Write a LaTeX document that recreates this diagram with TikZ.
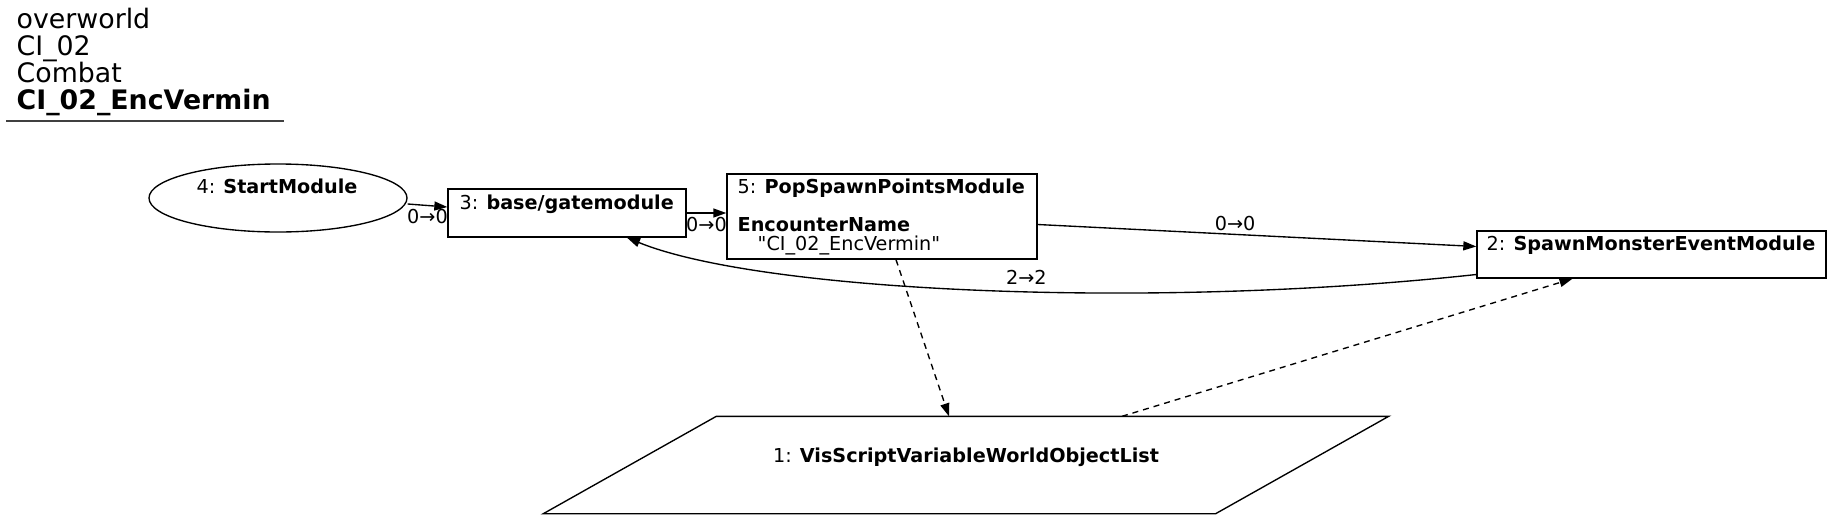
\documentclass[tikz,border=0pt]{standalone}
\usepackage{fontspec}
\setmainfont{DejaVu Sans}[Ligatures=TeXOff]
\usetikzlibrary{shapes.geometric,arrows.meta}
\begin{document}
\begin{tikzpicture}[x=0.5pt, y=-0.5pt, line width=0.68pt,
    txt/.style={inner sep=0pt, font=\fontsize{9.6}{11}\selectfont},
    head/.style={inner sep=0pt, anchor=base west, font=\fontsize{13.4}{13.5}\selectfont},
    modbox/.style={draw, rectangle, inner sep=0pt},
    flow/.style={-{Triangle[length=6.5pt,width=4.5pt]}},
    link/.style={flow, dash pattern=on 3pt off 2.5pt}]
  \useasboundingbox (0,0) rectangle (1832,520);
  % header
  \node[head] (hd1) at (16,28) {overworld};
  \node[head] (hd2) at (16,55) {CI\_02};
  \node[head] (hd3) at (16,82) {Combat};
  \node[head] (hd4) at (16,109) {\textbf{CI\_02\_EncVermin}};
  \draw[line width=0.7pt, black!75] (6,121) -- (284,121);
  % modules
  \node[draw, ellipse, minimum width=129pt, minimum height=34pt, inner sep=0pt] (start) at (278,198) {};
  \node[txt, anchor=base] (startlbl) at (277,193) {4: \textbf{StartModule}};
  \node[modbox, minimum width=119pt, minimum height=24pt] (gate) at (567,213) {};
  \node[txt, anchor=base west] (gatelbl) at (459,209) {3: \textbf{base/gatemodule}};
  \node[modbox, minimum width=155pt, minimum height=42.5pt] (pop) at (882,216.5) {};
  \node[txt, anchor=base west] (poplbl) at (737,193) {5: \textbf{PopSpawnPointsModule}};
  \node[txt, anchor=base west] (popkey) at (737,231) {\textbf{EncounterName}};
  \node[txt, anchor=base west] (popval) at (757,250) {"CI\_02\_EncVermin"};
  \node[modbox, minimum width=174.5pt, minimum height=23.5pt] (spawn) at (1651.5,254.5) {};
  \node[txt, anchor=base west] (spawnlbl) at (1486,250) {2: \textbf{SpawnMonsterEventModule}};
  \node[rectangle, inner sep=0pt, minimum width=422pt, minimum height=48pt] (vis) at (966,465) {};
  \draw (vis.south west) -- ([xshift=86.5pt]vis.north west) -- (vis.north east)
    -- ([xshift=-86.5pt]vis.south east) -- cycle;
  \node[txt, anchor=base] (vislbl) at (966,462) {1: \textbf{VisScriptVariableWorldObjectList}};
  % connectors
  \draw[flow] ([yshift=-3pt]start.east) -- node[txt, below=1.5pt] {0→0} ([yshift=3pt]gate.west);
  \draw[flow] (gate.east) -- node[txt, below=2pt] {0→0} (gate.east -| pop.west);
  \draw[flow] ([yshift=-4pt]pop.east) -- node[txt, above=1.5pt, pos=0.45] {0→0} ([yshift=4pt]spawn.west);
  \draw[flow] ([yshift=-10pt]spawn.west) .. controls (1150,310) and (760,292) .. ([xshift=30pt]gate.south)
    node[txt, pos=0.45, above=3pt] {2→2};
  \draw[link] ([xshift=7pt]pop.south) -- ([xshift=-8.5pt]vis.north);
  \draw[link] ([xshift=78pt]vis.north) -- ([xshift=-39.5pt]spawn.south);
\end{tikzpicture}
\end{document}
